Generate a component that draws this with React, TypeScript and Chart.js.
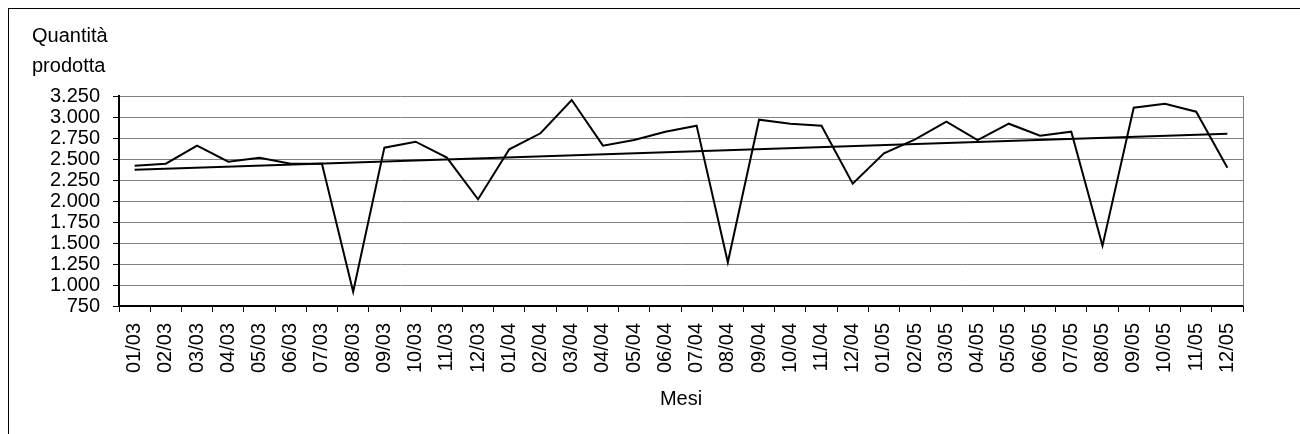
import { useEffect, useRef } from 'react';
import { Chart, registerables } from 'chart.js';

Chart.register(...registerables);

// Mesi (mm/aa)
const mesi = [
  '01/03', '02/03', '03/03', '04/03', '05/03', '06/03', '07/03', '08/03', '09/03', '10/03', '11/03', '12/03',
  '01/04', '02/04', '03/04', '04/04', '05/04', '06/04', '07/04', '08/04', '09/04', '10/04', '11/04', '12/04',
  '01/05', '02/05', '03/05', '04/05', '05/05', '06/05', '07/05', '08/05', '09/05', '10/05', '11/05', '12/05',
];

// Quantità prodotta per mese
const quantitaProdotta = [
  2420, 2444, 2659, 2468, 2516, 2444, 2444, 920, 2635, 2706, 2516, 2020,
  2615, 2806, 3202, 2659, 2726, 2825, 2897, 1270, 2968, 2920, 2897, 2206,
  2568, 2734, 2944, 2726, 2920, 2777, 2825, 1468, 3111, 3158, 3063, 2397,
];

// Linea di tendenza lineare: valori al primo e all'ultimo mese
const tendenzaInizio = 2373;
const tendenzaFine = 2801;

// Asse Y
const yMin = 750;
const yMax = 3250;
const yPasso = 250;

const FONT = "'Liberation Sans', Arial, sans-serif";
const FONT_SIZE = 20;

const formatMigliaia = (v: number) => String(v).replace(/\B(?=(\d{3})+(?!\d))/g, '.');

export default function App() {
  const canvasRef = useRef<HTMLCanvasElement>(null);

  useEffect(() => {
    const canvas = canvasRef.current;
    if (!canvas) return;

    const tendenza = mesi.map((_, i) =>
      i === 0 ? tendenzaInizio : i === mesi.length - 1 ? tendenzaFine : null
    );

    const testiPlugin = {
      id: 'testiGrafico',
      afterDraw(chart: any) {
        const { ctx, chartArea } = chart;
        ctx.save();
        // bordo destro dell'area del grafico
        ctx.strokeStyle = '#808080';
        ctx.lineWidth = 1;
        ctx.beginPath();
        ctx.moveTo(Math.round(chartArea.right) + 0.5, chartArea.top);
        ctx.lineTo(Math.round(chartArea.right) + 0.5, chartArea.bottom);
        ctx.stroke();

        ctx.fillStyle = '#000';
        ctx.font = `${FONT_SIZE}px ${FONT}`;
        ctx.textBaseline = 'alphabetic';
        ctx.textAlign = 'left';
        ctx.fillText('Quantità', 23, 33);
        ctx.fillText('prodotta', 23, 63);
        ctx.textAlign = 'center';
        ctx.fillText('Mesi', (chartArea.left + chartArea.right) / 2, 396);
        ctx.restore();
      },
    };

    const chart = new Chart(canvas, {
      type: 'line',
      data: {
        labels: mesi,
        datasets: [
          {
            label: 'Quantità prodotta',
            data: quantitaProdotta,
            borderColor: '#000',
            borderWidth: 2,
            pointRadius: 0,
            tension: 0,
            fill: false,
          },
          {
            label: 'Tendenza',
            data: tendenza,
            borderColor: '#000',
            borderWidth: 2,
            pointRadius: 0,
            tension: 0,
            spanGaps: true,
            fill: false,
          },
        ],
      },
      options: {
        animation: false,
        responsive: false,
        devicePixelRatio: 1,
        layout: { padding: { top: 87, right: 57, left: 0, bottom: 0 } },
        plugins: {
          legend: { display: false },
          tooltip: { enabled: false },
          title: { display: false },
        },
        scales: {
          x: {
            type: 'category',
            offset: true,
            grid: {
              display: true,
              drawOnChartArea: false,
              offset: true,
              tickLength: 6,
              tickColor: '#000',
            },
            border: { color: '#000', width: 2 },
            ticks: {
              autoSkip: false,
              minRotation: 90,
              maxRotation: 90,
              padding: 11,
              color: '#000',
              font: { family: FONT, size: FONT_SIZE },
            },
            afterFit(scale: any) {
              scale.height = 128;
            },
          },
          y: {
            min: yMin,
            max: yMax,
            grid: {
              color: '#808080',
              lineWidth: 1,
              tickLength: 6,
              tickColor: '#000',
            },
            border: { color: '#000', width: 2 },
            ticks: {
              autoSkip: false,
              stepSize: yPasso,
              padding: 13,
              color: '#000',
              font: { family: FONT, size: FONT_SIZE },
              callback: (v: any) => formatMigliaia(Number(v)),
            },
            afterFit(scale: any) {
              scale.width = 110;
            },
          },
        },
      },
      plugins: [testiPlugin],
    });

    return () => chart.destroy();
  }, []);

  return (
    <div
      style={{
        position: 'fixed',
        top: 8,
        left: 8,
        width: 1292,
        height: 426,
        boxSizing: 'border-box',
        borderTop: '1px solid #000',
        borderLeft: '1px solid #000',
        background: '#fff',
      }}
    >
      <canvas ref={canvasRef} width={1291} height={425} style={{ display: 'block' }} />
    </div>
  );
}
